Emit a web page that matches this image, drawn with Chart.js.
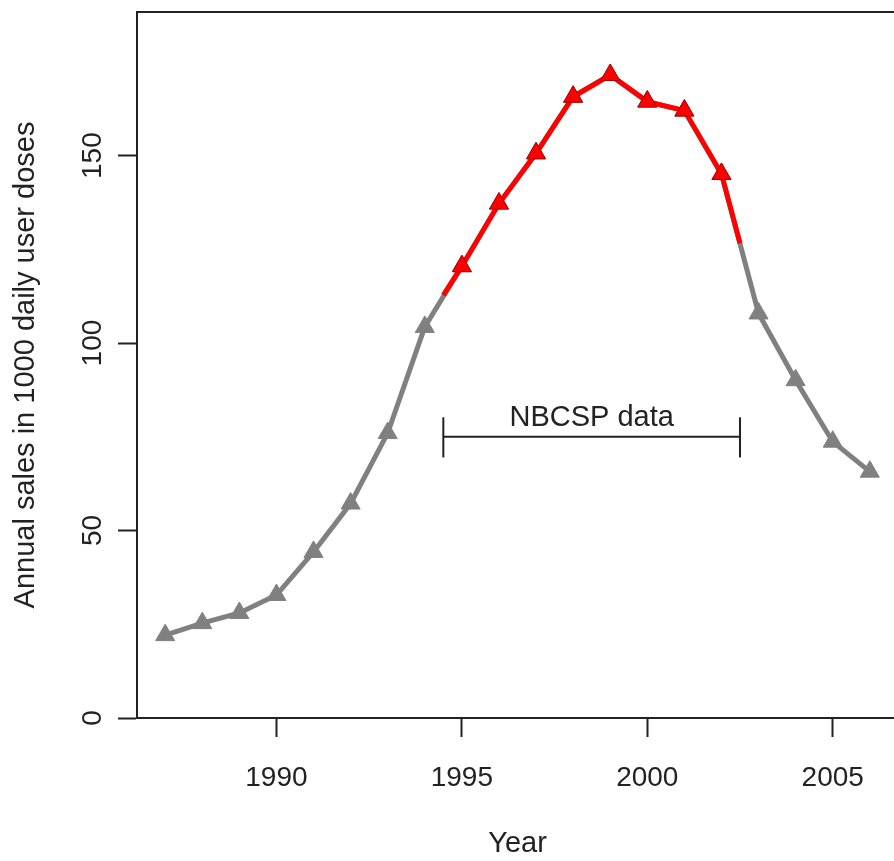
<!DOCTYPE html>
<html>
<head>
<meta charset="utf-8">
<script src="https://cdn.jsdelivr.net/npm/chart.js@4/dist/chart.umd.min.js"></script>
<style>
  html, body { margin: 0; padding: 0; background: #fff; overflow: hidden; }
  #wrap { width: 898px; height: 861px; }
</style>
</head>
<body>
<div id="wrap"><canvas id="chart" width="898" height="861"></canvas></div>
<script>
// yearly sales
const years = [1987, 1988, 1989, 1990, 1991, 1992, 1993, 1994, 1995, 1996,
               1997, 1998, 1999, 2000, 2001, 2002, 2003, 2004, 2005, 2006];
const sales = [22.1, 25.3, 28.0, 32.8, 44.3, 57.2, 76.0, 104.3, 120.5, 137.2,
               150.6, 165.7, 171.5, 164.4, 162.0, 145.1, 107.9, 90.1, 73.7, 65.7];

// red overlay: NBCSP period, ends at mid-years
const nbcspYears = [1994.5, 1995, 1996, 1997, 1998, 1999, 2000, 2001, 2002, 2002.5];
const nbcspSales = [112.8, 120.5, 137.2, 150.6, 165.7, 171.5, 164.4, 162.0, 145.1, 126.6];

// bracket under the peak
const bracketFrom = 1994.5;
const bracketTo = 2002.5;
const bracketLevel = 75;
const bracketLow = 69.5;
const bracketHigh = 80.2;
const bracketLabel = 'NBCSP data';
const bracketLabelX = 1998.5;
const bracketLabelY = 77.9;

const xTicks = [1990, 1995, 2000, 2005];
const yTicks = [0, 50, 100, 150];

const FONT = "'Liberation Sans', Arial, sans-serif";
const INK = '#222222';

const toPoints = (xs, ys) => xs.map((x, i) => ({ x: x, y: ys[i] }));

const topBorder = {
  id: 'topBorder',
  afterDraw(chart) {
    const { ctx, chartArea } = chart;
    ctx.save();
    ctx.strokeStyle = INK;
    ctx.lineWidth = 2;
    ctx.beginPath();
    ctx.moveTo(chartArea.left - 1, chartArea.top);
    ctx.lineTo(chartArea.right, chartArea.top);
    ctx.stroke();
    ctx.restore();
  }
};

const bracketText = {
  id: 'bracketText',
  afterDatasetsDraw(chart) {
    const { ctx, scales } = chart;
    ctx.save();
    ctx.fillStyle = INK;
    ctx.font = '29px ' + FONT;
    ctx.textAlign = 'center';
    ctx.textBaseline = 'alphabetic';
    ctx.fillText(bracketLabel, scales.x.getPixelForValue(bracketLabelX), scales.y.getPixelForValue(bracketLabelY));
    ctx.restore();
  }
};

const bracketLine = (pts) => ({
  data: pts,
  borderColor: INK,
  borderWidth: 2,
  pointRadius: 0,
  fill: false,
  order: 0
});

new Chart(document.getElementById('chart'), {
  type: 'line',
  data: {
    datasets: [
      {
        data: toPoints(nbcspYears, nbcspSales),
        borderColor: '#ff0000',
        backgroundColor: '#ff0000',
        borderWidth: 5,
        pointStyle: 'triangle',
        pointRadius: nbcspYears.map(y => Number.isInteger(y) ? 11 : 0),
        pointBorderWidth: 1,
        pointBorderColor: '#aa0000',
        pointBackgroundColor: '#ff0000',
        order: 1
      },
      {
        data: toPoints(years, sales),
        borderColor: '#808080',
        backgroundColor: '#808080',
        borderWidth: 5,
        pointStyle: 'triangle',
        pointRadius: 11,
        pointBorderWidth: 1,
        pointBorderColor: '#808080',
        pointBackgroundColor: '#808080',
        order: 2
      },
      bracketLine(toPoints([bracketFrom, bracketTo], [bracketLevel, bracketLevel])),
      bracketLine(toPoints([bracketFrom, bracketFrom], [bracketLow, bracketHigh])),
      bracketLine(toPoints([bracketTo, bracketTo], [bracketLow, bracketHigh]))
    ]
  },
  options: {
    responsive: false,
    animation: false,
    events: [],
    layout: { autoPadding: false, padding: { top: 12, left: 0, right: 0, bottom: 0 } },
    plugins: { legend: { display: false }, tooltip: { enabled: false } },
    scales: {
      x: {
        type: 'linear',
        min: 1986.24,
        max: 2006.76,
        afterBuildTicks: (s) => { s.ticks = xTicks.map(v => ({ value: v })); },
        afterFit: (s) => { s.height = 143; s.paddingLeft = 0; s.paddingRight = 0; },
        grid: { drawOnChartArea: false, drawTicks: true, tickLength: 19, tickWidth: 2, tickColor: INK },
        border: { display: true, color: INK, width: 2 },
        ticks: { color: INK, font: { family: FONT, size: 28 }, padding: 24, maxRotation: 0, callback: (v) => String(v) },
        title: { display: true, text: 'Year', color: INK, font: { family: FONT, size: 29 }, padding: { top: 0, bottom: 0 } }
      },
      y: {
        type: 'linear',
        min: 0,
        max: 188.3,
        afterBuildTicks: (s) => { s.ticks = yTicks.map(v => ({ value: v })); },
        afterFit: (s) => { s.width = 137; s.paddingTop = 0; s.paddingBottom = 0; },
        grid: { drawOnChartArea: false, drawTicks: true, tickLength: 19, tickWidth: 2, tickColor: INK },
        border: { display: true, color: INK, width: 2 },
        ticks: { color: INK, font: { family: FONT, size: 28 }, padding: 1, minRotation: 90, maxRotation: 90, crossAlign: 'center', callback: (v) => String(v) },
        title: { display: true, text: 'Annual sales in 1000 daily user doses', color: INK, font: { family: FONT, size: 29 }, padding: { top: 9, bottom: 0 } }
      }
    }
  },
  plugins: [topBorder, bracketText]
});
</script>
</body>
</html>
